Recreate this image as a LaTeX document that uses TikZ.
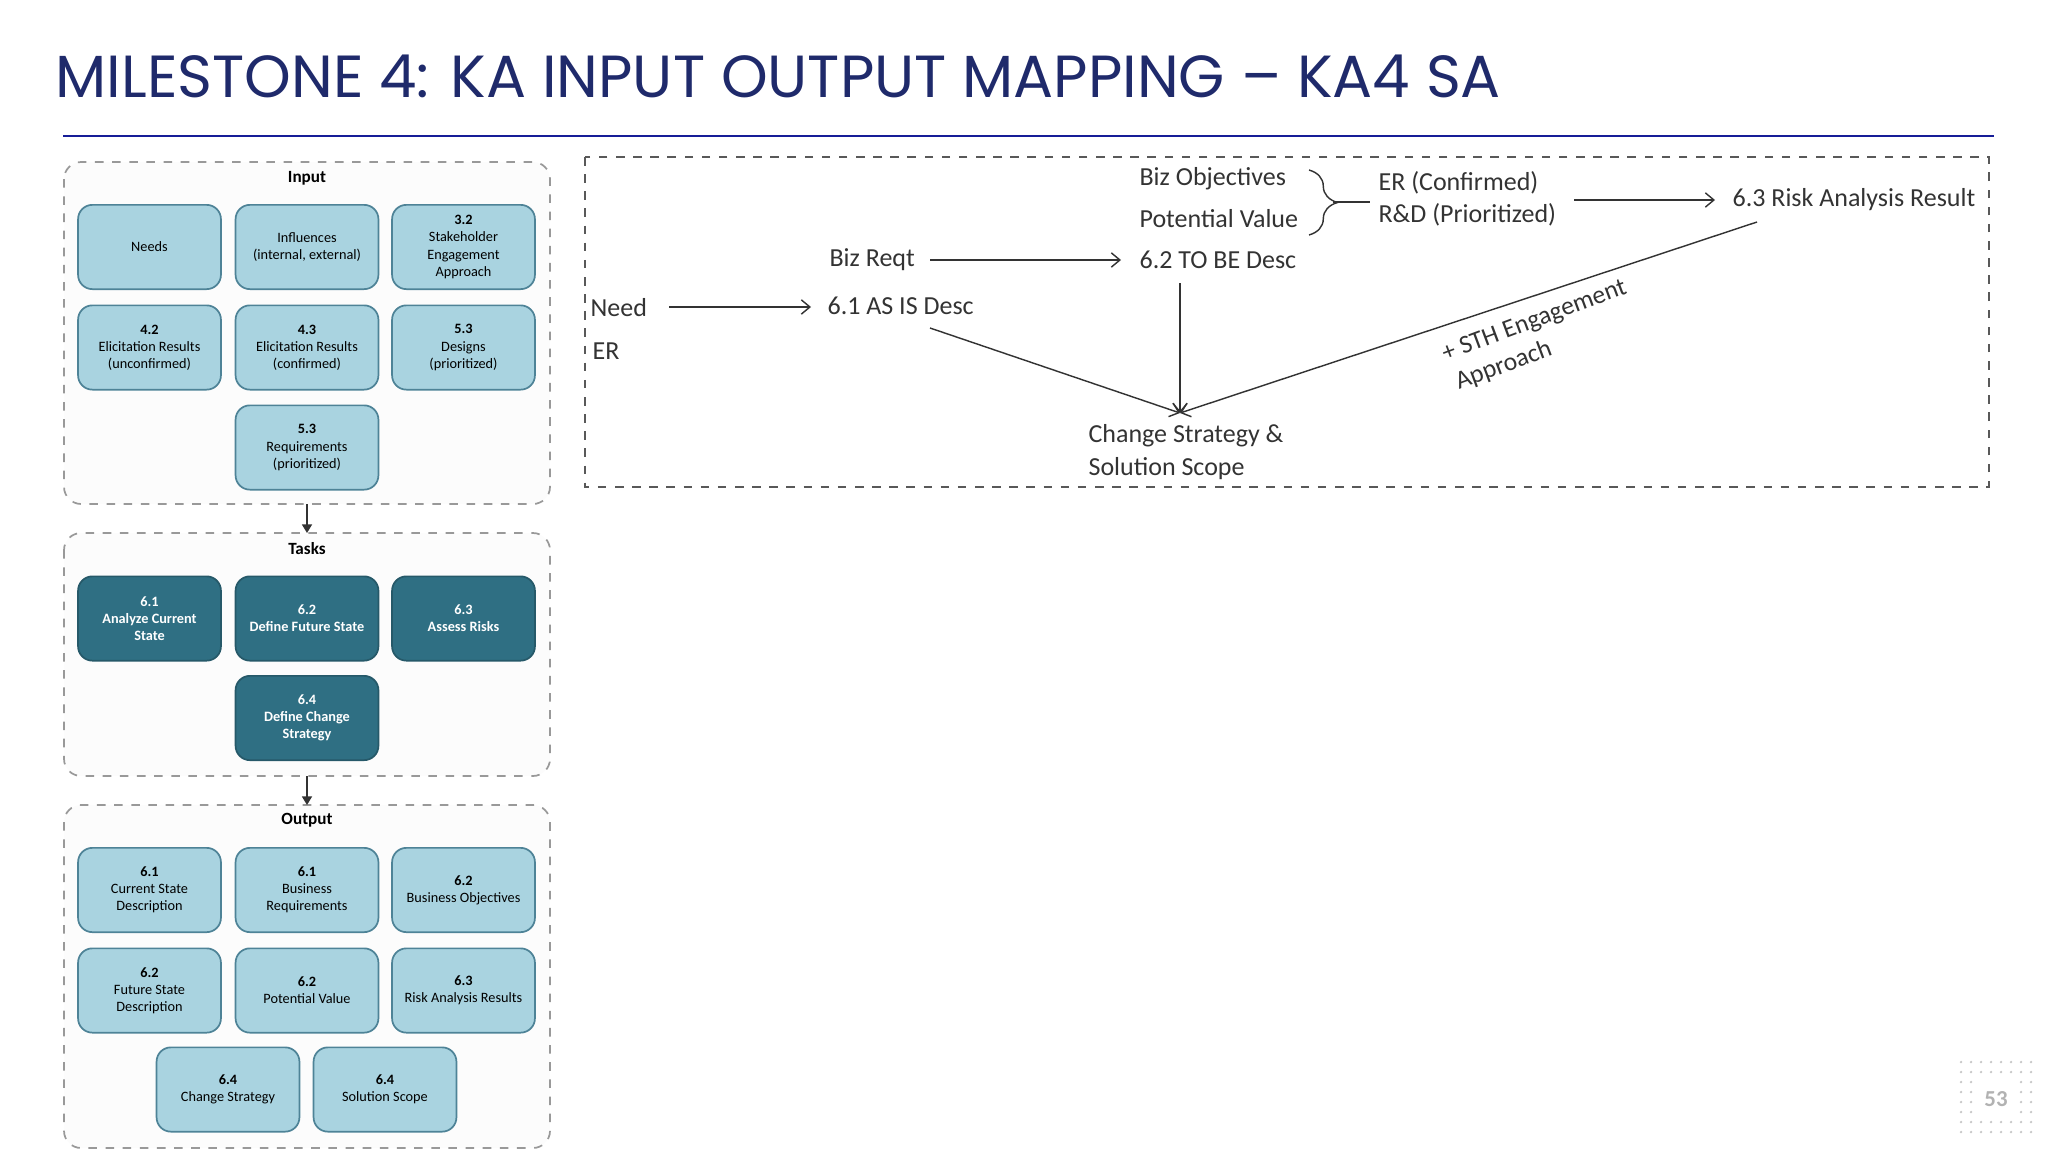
\documentclass[tikz,border=0pt]{standalone}
\usepackage{fontspec}
\setmainfont{Carlito}
\newfontfamily\titlefont{Poppins}
\usetikzlibrary{arrows.meta,decorations.pathreplacing}
\definecolor{navy}{HTML}{1F2A6B}
\definecolor{lbfill}{HTML}{A9D3E0}
\definecolor{lbdraw}{HTML}{4E8397}
\definecolor{tfill}{HTML}{2F6F83}
\definecolor{txt}{HTML}{333333}
\begin{document}
\begin{tikzpicture}[x=0.35pt,y=-0.35pt,
 ib/.style={draw=lbdraw,fill=lbfill,rounded corners=5pt,line width=0.6pt,minimum width=50pt,minimum height=29.5pt,align=center,font=\fontsize{5}{6}\selectfont,text=black,inner sep=1pt},
 tb/.style={ib,fill=tfill,draw=tfill!80!black,text=white,font=\fontsize{5}{6}\selectfont\bfseries},
 panel/.style={draw=gray!80,dashed,rounded corners=6pt,line width=0.6pt,fill=gray!2},
 ptitle/.style={font=\fontsize{6}{7}\selectfont\bfseries},
 rt/.style={font=\fontsize{9.1}{11}\selectfont,text=txt,anchor=west,inner sep=0pt},
 ar/.style={-{Straight Barb[length=3pt,width=5pt]},line width=0.5pt,draw=txt},
 ln/.style={line width=0.5pt,draw=txt}]
\useasboundingbox (0,0) rectangle (2048,1152);
\node[anchor=base west,inner sep=0pt,text=navy,font=\titlefont\fontsize{20.8}{24}\selectfont] (title) at (55,98) {MILESTONE 4: KA INPUT OUTPUT MAPPING – KA4 SA};
\draw[color=navy!70!blue,line width=0.7pt] (63,136) -- (1994,136);
% panels
\draw[panel] (64,162) rectangle (550,504);
\draw[panel] (64,533) rectangle (550,776);
\draw[panel] (64,805) rectangle (550,1148);
\node[ptitle] (pin) at (307,178) {Input};
\node[ptitle] (ptk) at (307,549) {Tasks};
\node[ptitle] (pout) at (307,820) {Output};
\coordinate (a1) at (307,504); \coordinate (a2) at (307,533);
\coordinate (b1) at (307,776); \coordinate (b2) at (307,805);
\draw[-{Triangle[length=3pt,width=3.5pt]},line width=0.5pt,gray!40!black] (a1) -- (a2);
\draw[-{Triangle[length=3pt,width=3.5pt]},line width=0.5pt,gray!40!black] (b1) -- (b2);
% input
\node[ib] (i1) at (149.5,247) {Needs};
\node[ib] (i2) at (307,247) {Influences\\(internal, external)};
\node[ib] (i3) at (463.5,247) {\textbf{3.2}\\Stakeholder\\Engagement\\Approach};
\node[ib] (i4) at (149.5,347.5) {\textbf{4.2}\\Elicitation Results\\(unconfirmed)};
\node[ib] (i5) at (307,347.5) {\textbf{4.3}\\Elicitation Results\\(confirmed)};
\node[ib] (i6) at (463.5,347.5) {\textbf{5.3}\\Designs\\(prioritized)};
\node[ib] (i7) at (307,447.5) {\textbf{5.3}\\Requirements\\(prioritized)};
% tasks
\node[tb] (t1) at (149.5,618.5) {6.1\\Analyze Current\\State};
\node[tb] (t2) at (307,618.5) {6.2\\Define Future State};
\node[tb] (t3) at (463.5,618.5) {6.3\\Assess Risks};
\node[tb] (t4) at (307,718) {6.4\\Define Change\\Strategy};
% output
\node[ib] (o1) at (149.5,890) {\textbf{6.1}\\Current State\\Description};
\node[ib] (o2) at (307,890) {\textbf{6.1}\\Business\\Requirements};
\node[ib] (o3) at (463.5,890) {\textbf{6.2}\\Business Objectives};
\node[ib] (o4) at (149.5,990.5) {\textbf{6.2}\\Future State\\Description};
\node[ib] (o5) at (307,990.5) {\textbf{6.2}\\Potential Value};
\node[ib] (o6) at (463.5,990.5) {\textbf{6.3}\\Risk Analysis Results};
\node[ib] (o7) at (228,1089.5) {\textbf{6.4}\\Change Strategy};
\node[ib] (o8) at (385,1089.5) {\textbf{6.4}\\Solution Scope};
% right panel
\draw[draw=gray!70!black,dashed,line width=0.6pt] (585,157) rectangle (1989,487);
\node[rt] (bo) at (1139,179) {Biz Objectives};
\node[rt] (pv) at (1139,219) {Potential Value};
\draw[ln,decorate,decoration={brace,amplitude=10pt}] (1309,170) -- (1309,235);
\coordinate (br) at (1333,202);
\coordinate (brl) at (1370,202);
\draw[ln] (br) -- (brl);
\node[rt] (erc) at (1378,183) {ER (Confirmed)};
\node[rt] (rd) at (1378,215) {R\&D (Prioritized)};
\node[rt] (risk) at (1732,200) {6.3 Risk Analysis Result};
\coordinate (r1) at (1574,200);
\coordinate (r2) at (1715,200);
\draw[ar] (r1) -- (r2);
\node[rt] (breq) at (829,260) {Biz Reqt};
\node[rt] (tobe) at (1139,260) {6.2 TO BE Desc};
\coordinate (q1) at (930,260); \coordinate (q2) at (1121,260);
\draw[ar] (q1) -- (q2);
\node[rt] (need) at (590,308) {Need};
\node[rt] (er) at (592,351) {ER};
\node[rt] (asis) at (827,306) {6.1 AS IS Desc};
\coordinate (n1) at (669,307); \coordinate (n2) at (811,307);
\draw[ar] (n1) -- (n2);
\coordinate (cv) at (1180,413);
\coordinate (s1) at (930,328);
\coordinate (s2) at (1180,283);
\coordinate (s3) at (1757,222);
\draw[ar] (s1) -- (cv);
\draw[ar] (s2) -- (cv);
\draw[ar] (s3) -- (cv);
\node[rt] (cs) at (1088,436) {Change Strategy \&};
\node[rt] (ss) at (1088,469) {Solution Scope};
\node[font=\fontsize{9}{11}\selectfont,text=txt,align=left,rotate=20.5,inner sep=0pt] (sth) at (1540,336) {+ STH Engagement\\\hspace*{0.1em}Approach};
% page number
\foreach \i in {0,...,7}{\foreach \j in {0,...,7}{
 \pgfmathparse{(\i>1 && \i<6 && \j>1 && \j<6) ? 1 : 0}
 \ifnum\pgfmathresult=0 \fill[gray!45] (1961+\i*10,1062+\j*10) circle (1.3);\fi}}
\node[font=\fontsize{8}{9}\selectfont\bfseries,text=gray!60] (pg) at (1996,1099) {53};
\end{tikzpicture}
\end{document}
